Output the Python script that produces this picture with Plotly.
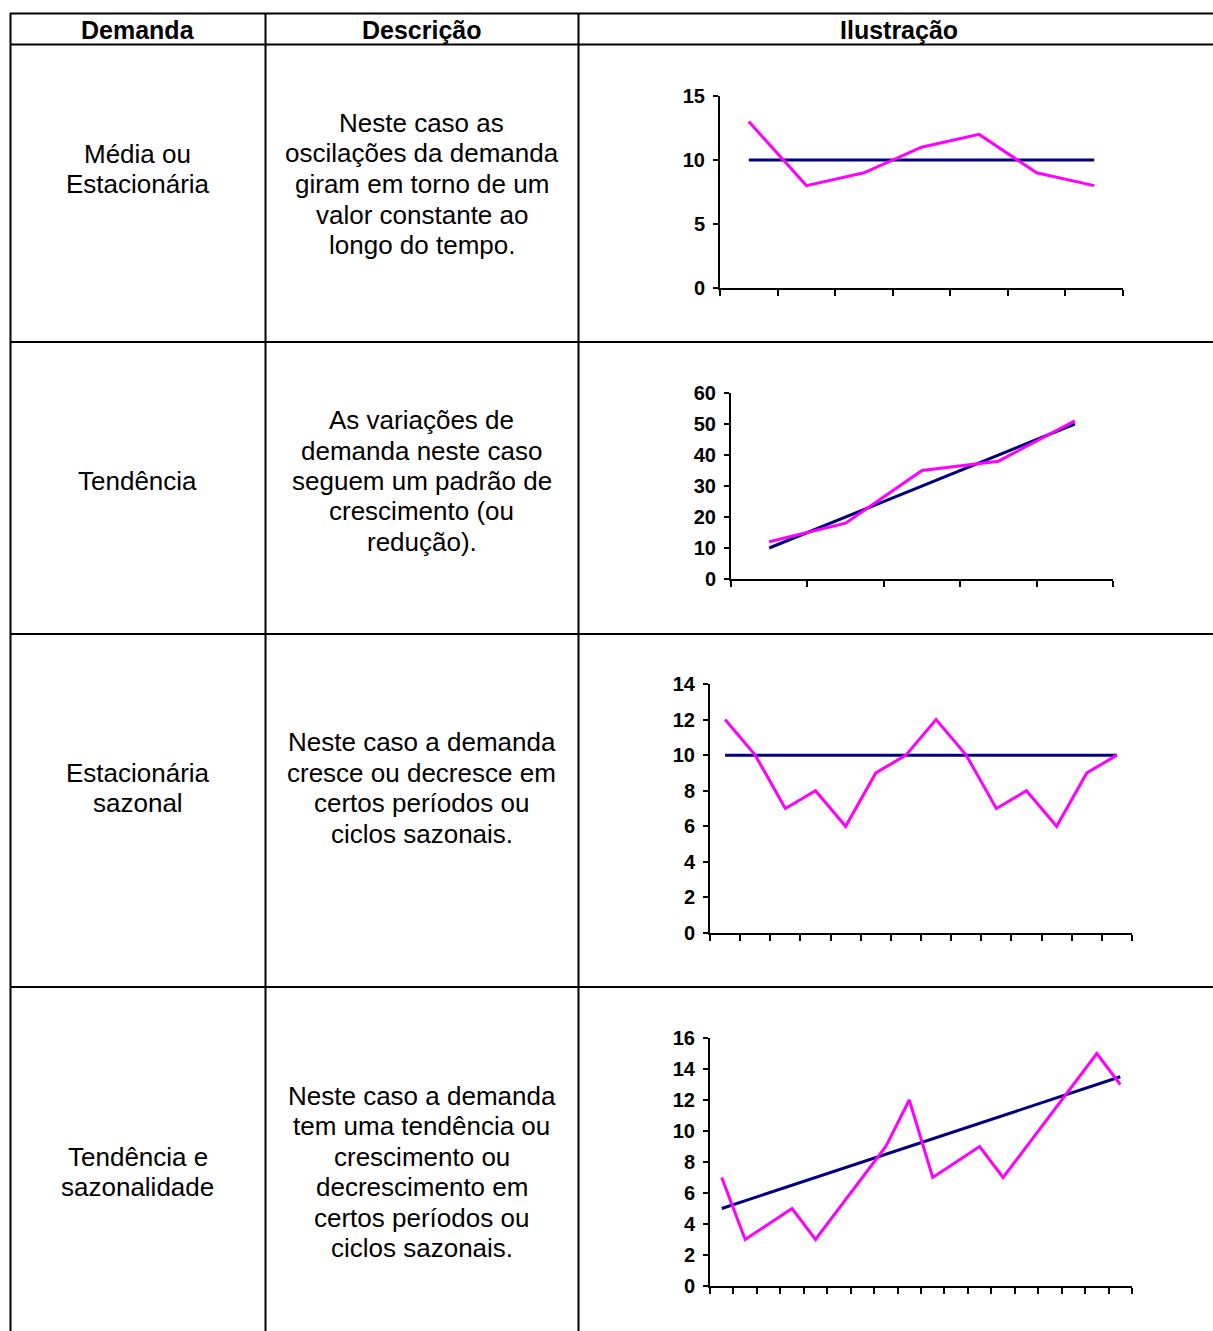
import plotly.graph_objects as go

W, H = 1213, 1331

# ---- table content ----
headers = ["Demanda", "Descrição", "Ilustração"]
demand_types = [
    ["Média ou", "Estacionária"],
    ["Tendência"],
    ["Estacionária", "sazonal"],
    ["Tendência e", "sazonalidade"],
]
descriptions = [
    ["Neste caso as", "oscilações da demanda", "giram em torno de um",
     "valor constante ao", "longo do tempo."],
    ["As variações de", "demanda neste caso", "seguem um padrão de",
     "crescimento (ou", "redução)."],
    ["Neste caso a demanda", "cresce ou decresce em", "certos períodos ou",
     "ciclos sazonais."],
    ["Neste caso a demanda", "tem uma tendência ou", "crescimento ou",
     "decrescimento em", "certos períodos ou", "ciclos sazonais."],
]

# ---- chart series ----
media_real = [13, 8, 9, 11, 12, 9, 8]
media_base = [10, 10, 10, 10, 10, 10, 10]

tendencia_real = [12, 18, 35, 38, 51]
tendencia_base = [10, 20, 30, 40, 50]

sazonal_real = [12, 10, 7, 8, 6, 9, 10, 12, 10, 7, 8, 6, 9, 10]
sazonal_base = [10] * 14

tend_saz_real = [7, 3, 4, 5, 3, 5, 7, 9, 12, 7, 8, 9, 7, 9, 11, 13, 15, 13]
tend_saz_base = [5, 5.5, 6, 6.5, 7, 7.5, 8, 8.5, 9, 9.5, 10, 10.5, 11,
                 11.5, 12, 12.5, 13, 13.5]

y_ranges = [(0, 15, 5), (0, 60, 10), (0, 14, 2), (0, 16, 2)]

# pixel boxes of each plot area: (left, right, top, bottom)
boxes = [
    (720, 1123, 96, 288),
    (731, 1113, 393, 579),
    (710, 1132, 684, 933),
    (710, 1132, 1038, 1286),
]

series = [
    (media_real, media_base),
    (tendencia_real, tendencia_base),
    (sazonal_real, sazonal_base),
    (tend_saz_real, tend_saz_base),
]

MAGENTA = "#FF00FF"
NAVY = "#000080"
FONT = "Liberation Sans, Arial, sans-serif"


def px_x(x):
    return x / W


def px_y(y):
    return 1 - y / H


fig = go.Figure()
layout_axes = {}

for i, ((real, base), (l, r, t, b), (ymin, ymax, dy)) in enumerate(
        zip(series, boxes, y_ranges), start=1):
    xs = list(range(1, len(real) + 1))
    xa = "x" if i == 1 else f"x{i}"
    ya = "y" if i == 1 else f"y{i}"
    fig.add_trace(go.Scatter(x=xs, y=base, mode="lines",
                             line=dict(color=NAVY, width=3),
                             xaxis=xa, yaxis=ya, showlegend=False))
    fig.add_trace(go.Scatter(x=xs, y=real, mode="lines",
                             line=dict(color=MAGENTA, width=3),
                             xaxis=xa, yaxis=ya, showlegend=False))
    n = len(real)
    xkey = "xaxis" if i == 1 else f"xaxis{i}"
    ykey = "yaxis" if i == 1 else f"yaxis{i}"
    # category axis: tick marks sit between the periods
    layout_axes[xkey] = dict(
        domain=[px_x(l), px_x(r)], anchor=ya,
        range=[0.5, n + 0.5],
        tickmode="array", tickvals=[k + 0.5 for k in range(n + 1)],
        showticklabels=False, ticks="outside", ticklen=6, tickwidth=2,
        tickcolor="black", showline=True, linecolor="black", linewidth=2,
        showgrid=False, zeroline=False, fixedrange=True, automargin=False,
    )
    layout_axes[ykey] = dict(
        domain=[px_y(b), px_y(t)], anchor=xa,
        range=[ymin, ymax], tickmode="linear", tick0=0, dtick=dy,
        ticks="outside", ticklen=5, tickwidth=2, tickcolor="black",
        showline=True, linecolor="black", linewidth=2,
        showgrid=False, zeroline=False, fixedrange=True, automargin=False,
        tickfont=dict(family=FONT, size=20, color="black", weight="bold"),
        ticklabelstandoff=4,
    )

# ---- table grid ----
shapes = []
line_style = dict(color="black", width=2)
col_x = [10.5, 265.5, 578.5]
row_y = [13.5, 44.5, 342, 634, 987]
for yy in row_y:
    shapes.append(dict(type="line", xref="paper", yref="paper",
                       x0=px_x(10), x1=1, y0=px_y(yy), y1=px_y(yy),
                       line=line_style))
for xx in col_x:
    shapes.append(dict(type="line", xref="paper", yref="paper",
                       x0=px_x(xx), x1=px_x(xx), y0=px_y(13), y1=0,
                       line=line_style))

annotations = []


def add_text(text, cx, cy, size=26, bold=False):
    annotations.append(dict(
        text=text, xref="paper", yref="paper", x=px_x(cx), y=px_y(cy),
        xanchor="center", yanchor="middle", showarrow=False,
        font=dict(family=FONT, size=size, color="black",
                  weight="bold" if bold else "normal"),
    ))


header_cx = [137.5, 421.5, 899]
for h, cx in zip(headers, header_cx):
    add_text(h, cx, 30, size=25, bold=True)

LINE = 30.5
col1_centers = [169, 481, 788, 1172]
col2_centers = [184, 481, 788, 1172]
for lines, cy in zip(demand_types, col1_centers):
    n = len(lines)
    for k, txt in enumerate(lines):
        add_text(txt, 137.5, cy + (k - (n - 1) / 2) * LINE)
for lines, cy in zip(descriptions, col2_centers):
    n = len(lines)
    for k, txt in enumerate(lines):
        add_text(txt, 421.5, cy + (k - (n - 1) / 2) * LINE)

fig.update_layout(
    width=W, height=H,
    margin=dict(l=0, r=0, t=0, b=0, pad=0, autoexpand=False),
    paper_bgcolor="white", plot_bgcolor="white",
    shapes=shapes, annotations=annotations, showlegend=False,
    **layout_axes,
)

fig.write_html("out.html", config={"displayModeBar": False})
